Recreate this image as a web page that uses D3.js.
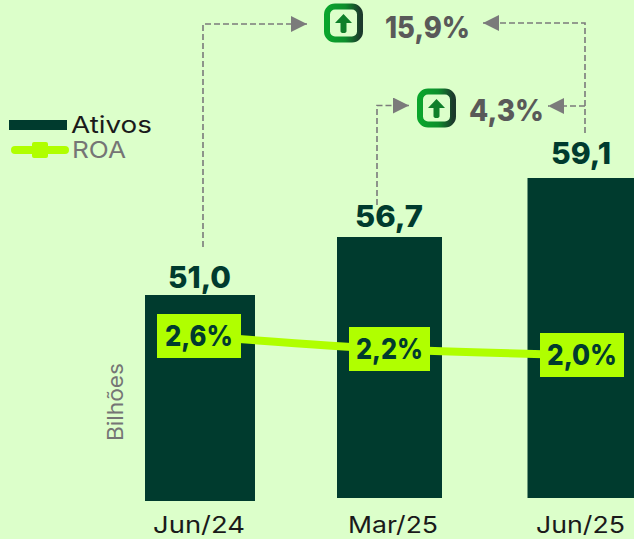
<!DOCTYPE html>
<html><head><meta charset="utf-8">
<script src="https://cdn.jsdelivr.net/npm/d3@7"></script>
<style>html,body{margin:0;padding:0;background:#dcffca;overflow:hidden}svg{display:block}</style>
</head><body><div id="c"></div>
<script>
const categories = ["Jun/24","Mar/25","Jun/25"];
const ativos = [51.0,56.7,59.1];
const roa = [2.6,2.2,2.0];
const variations = ["15,9%","4,3%"];
const seriesNames = ["Ativos","ROA"];
const axisTitle = "Bilhões";

const W=634,H=539;
const FONT="Inter, 'Open Sans', sans-serif";
const DARK="#003b2e",LIME="#b0ff00",GREY="#7b7b7b",TXT="#595959";
const fmt=(v,d)=>v.toFixed(d).replace(".",",");

const svg=d3.select("#c").append("svg").attr("width",W).attr("height",H).attr("viewBox",`0 0 ${W} ${H}`);
const defs=svg.append("defs");
const grad=defs.append("linearGradient").attr("id","ic");
grad.append("stop").attr("offset","0").attr("stop-color","#0aa52c");
grad.append("stop").attr("offset","0.55").attr("stop-color","#0d8f2c");
grad.append("stop").attr("offset","1").attr("stop-color","#1c3a2c");
const mk=defs.append("marker").attr("id","ah").attr("viewBox","0 0 16 16").attr("refX",16).attr("refY",8)
 .attr("markerWidth",16).attr("markerHeight",16).attr("markerUnits","userSpaceOnUse").attr("orient","auto");
mk.append("path").attr("d","M0,0L16,8L0,16Z").attr("fill",GREY);

// the source's bars are not drawn to one linear ratio: piecewise value scale
const y=d3.scaleLinear().domain([0,51,56.7,59.1]).range([500,295,237,178]);
const yRoa=d3.scaleLinear().domain([2.0,2.2,2.6]).range([355,349,336]);
const xBand=d3.scaleOrdinal().domain(categories).range([145,337,527.5]);
const bw=d3.scaleOrdinal().domain(categories).range([110,105,107]);
const base=d3.scaleOrdinal().domain(categories).range([501,498,498]);
const xRoa=d3.scaleOrdinal().domain(categories).range([199,389.5,582]);
const xVal=d3.scaleOrdinal().domain(categories).range([199.5,389,581]);
const yValGap=d3.scaleOrdinal().domain(categories).range([7,10,14]);
const xTick=d3.scaleOrdinal().domain(categories).range([199,393,580.5]);

svg.selectAll("rect.bar").data(categories).join("rect").attr("class","bar")
 .attr("x",xBand).attr("width",bw)
 .attr("y",(c,i)=>y(ativos[i])).attr("height",(c,i)=>base(c)-y(ativos[i])).attr("fill",DARK);

const text=(x,yy,s,size,weight,fill,w,anchor="middle")=>{
 const t=svg.append("text").attr("x",x).attr("y",yy).attr("text-anchor",anchor)
  .attr("font-family",FONT).attr("font-size",size).attr("font-weight",weight).attr("fill",fill).text(s);
 if(w)t.attr("textLength",w).attr("lengthAdjust","spacingAndGlyphs");
 return t;
};

svg.append("path").datum(categories).attr("fill","none").attr("stroke",LIME).attr("stroke-width",8)
 .attr("d",d3.line().x(xRoa).y((c,i)=>yRoa(roa[i])).curve(d3.curveMonotoneX));

const valW=[63,68,60],roaW=[68,67,70],bxW=[84,81,84];
categories.forEach((c,i)=>{
 text(xVal(c),y(ativos[i])-yValGap(c),fmt(ativos[i],1),30,800,DARK,valW[i]);
 const yy=yRoa(roa[i]);
 svg.append("rect").attr("x",xRoa(c)-bxW[i]/2).attr("y",yy-22).attr("width",bxW[i]).attr("height",44).attr("fill",LIME);
 text(xRoa(c),yy+10,fmt(roa[i],1)+"%",28,800,DARK,roaW[i]);
 text(xTick(c),533,c,23,400,"#1a1a1a",[92,90,89][i]);
});

text(0,0,axisTitle,21,400,"#757575",78).attr("transform","translate(123,402) rotate(-90)");

// legend
svg.append("rect").attr("x",9).attr("y",120).attr("width",58).attr("height",10).attr("fill",DARK);
text(71,133,seriesNames[0],23,400,"#1a1a1a",81,"start");
svg.append("line").attr("x1",15).attr("x2",65).attr("y1",150).attr("y2",150).attr("stroke",LIME).attr("stroke-width",8).attr("stroke-linecap","round");
svg.append("rect").attr("x",32).attr("y",142).attr("width",16).attr("height",16).attr("rx",2).attr("fill",LIME);
text(72,158,seriesNames[1],23,400,"#757575",54,"start");

// connectors
const conn=(d,arrow=true)=>svg.append("path").attr("d",d).attr("fill","none").attr("stroke",GREY).attr("stroke-width",1.6)
 .attr("stroke-dasharray","6 3").attr("marker-end",arrow?"url(#ah)":null);
conn("M203,247V24H307");
conn("M377,205V105.5H409");
conn("M585,133V23H483");
conn("M585,106H548");

const icon=(cx,cy)=>{
 const g=svg.append("g").attr("transform",`translate(${cx},${cy})`);
 g.append("rect").attr("x",-16.5).attr("y",-16.5).attr("width",33).attr("height",33).attr("rx",8).attr("fill","#dcffca").attr("stroke","url(#ic)").attr("stroke-width",6);
 g.append("path").attr("d","M0,-9L8.5,0H3V8Q3,10 0,10Q-3,10 -3,8V0H-8.5Z").attr("fill","#0f7f2a");
};
icon(343.5,23);icon(436.5,108);

text(385,38,variations[0],30,800,TXT,85,"start");
text(469,121,variations[1],30,800,TXT,75,"start");
</script></body></html>
